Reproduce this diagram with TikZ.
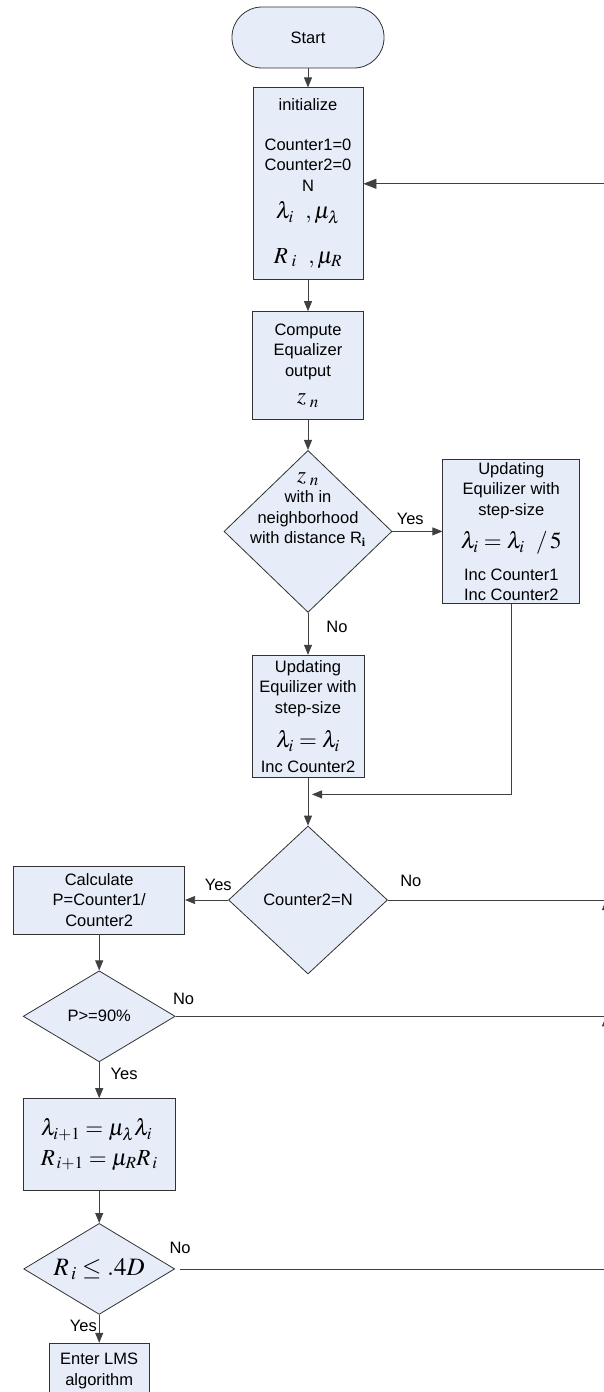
\documentclass[tikz,border=0pt]{standalone}
\usepackage{mathptmx}
\usepackage{fontspec}
\setmainfont{Liberation Sans}
\usetikzlibrary{shapes.geometric, arrows.meta, positioning, calc}
\definecolor{boxfill}{RGB}{230,236,248}
\definecolor{boxline}{RGB}{50,50,50}
\newcommand{\eqsize}{\fontsize{23}{26}\selectfont}
\newcommand{\txtsize}{\fontsize{16.5}{20.5}\selectfont}
\tikzset{
    box/.style = {draw=boxline, fill=boxfill, rectangle, align=center, inner sep=1pt, font=\txtsize},
    term/.style = {box, rounded corners=30pt, minimum width=152pt, minimum height=61pt},
    dec/.style = {draw=boxline, fill=boxfill, diamond, align=center, inner sep=0pt, font=\txtsize},
    txt/.style = {align=center, inner sep=0pt, font=\txtsize},
    lbl/.style = {inner sep=0pt, font=\txtsize},
    arr/.style = {-{Triangle[length=10pt,width=8pt]}},
    bigarr/.style = {-{Triangle[length=13pt,width=10pt]}}
}

\begin{document}
\begin{tikzpicture}[line width=0.8pt, draw=black!75]
    \useasboundingbox (0,0) rectangle (604pt,-1392pt);
    \coordinate (ret) at (606pt,0);

    \node (start) [term] at (308pt,-37.5pt) {Start};
    \node (init) [box, minimum width=110pt, minimum height=192pt, below=19pt of start]
        {initialize\\[19pt] Counter1=0\\ Counter2=0\\ N\\[7pt]
         {\eqsize $\lambda_i\;\ ,\mu_\lambda$}\\[24pt] {\eqsize $R_{\,\,i}\;\ ,\mu_R$}};
    \node (comp) [box, minimum width=111pt, minimum height=108pt, below=31pt of init]
        {Compute\\ Equalizer\\ output\\[7pt] {\eqsize $z_{\,\,n}$}};
    \node (dec1) [dec, aspect=1.04, minimum width=168pt, minimum height=162pt, below=30pt of comp] {};
    \node (dec1t) [txt, yshift=22pt] at (dec1)
        {{\eqsize $z_{\,\,n}$}\\ with in\\ neighborhood\\ with distance R$_{\mathbf{i}}$};
    \node (upd1) [box, minimum width=137pt, minimum height=144pt, right=50pt of dec1]
        {Updating\\ Equilizer with\\ step-size\\[12pt] {\eqsize $\lambda_i=\lambda_i\;\ /\,5$}\\[11pt] Inc Counter1\\ Inc Counter2};
    \node (upd2) [box, minimum width=112pt, minimum height=122pt, below=42pt of dec1]
        {Updating\\ Equilizer with\\ step-size\\[13pt] {\eqsize $\lambda_i=\lambda_i$}\\[4pt] Inc Counter2};
    \node (dec2) [dec, aspect=1.07, minimum width=159pt, minimum height=148pt, below=48pt of upd2] {Counter2=N};
    \node (calc) [box, minimum width=171pt, minimum height=68pt, left=43pt of dec2]
        {Calculate\\ P=Counter1/\\ Counter2};
    \node (dec3) [dec, aspect=1.67, minimum width=152pt, minimum height=91pt, below=36pt of calc] {P>=90\%};
    \node (upd3) [box, align=left, minimum width=152pt, minimum height=92pt, below=36pt of dec3]
        {{\eqsize $\lambda_{i+1}=\mu_\lambda\lambda_i$}\\[9pt] {\eqsize $R_{\,i+1}=\mu_R R_{\,i}$}};
    \node (dec4) [dec, aspect=1.66, minimum width=151pt, minimum height=91pt, below=32pt of upd3]
        {\fontsize{25}{27}\selectfont $R_{\,i}\le .4D$};
    \node (lms) [box, minimum width=100pt, minimum height=55pt, below=28pt of dec4]
        {Enter LMS\\ algorithm};

    \coordinate (merge) at ($(upd2.south)!0.35!(dec2.north)$);

    \draw[arr] (start) -- (init);
    \draw[arr] (init) -- (comp);
    \draw[arr] (comp) -- (dec1);
    \draw[arr] (dec1.east) -- node[lbl, above right=6pt and 4pt, pos=0] (yes1) {Yes} (upd1);
    \draw[arr] (dec1.south) -- node[lbl, below right=8pt and 18pt, pos=0] (no1) {No} (upd2);
    \draw[arr] (upd2) -- (dec2);
    \draw[arr, shorten >=4pt] (upd1.south) |- (merge);
    \draw[arr] (dec2.west) -- node[lbl, above left=9pt and -4pt, pos=0] (yes2) {Yes} (calc);
    \draw (dec2.east) -- node[lbl, above right=13pt and 12pt, pos=0] (no2) {No} (dec2.east -| ret);
    \draw[arr] (calc) -- (dec3);
    \draw (dec3.east) -- node[lbl, above right=11pt and -3pt, pos=0] (no3) {No} (dec3.east -| ret);
    \draw[arr] (dec3.south) -- node[lbl, below right=6pt and 11pt, pos=0] (yes3) {Yes} (upd3);
    \draw[arr] (upd3) -- (dec4);
    \draw[shorten <=5pt] (dec4.east) -- node[lbl, above right=15pt and -6pt, pos=0] (no4) {No} (dec4.east -| ret);
    \draw[arr] (dec4.south) -- node[lbl, below left=5pt and 2pt, pos=0] (yes4) {Yes} (lms);

    % way back up to the initialisation
    \draw[arr] (dec4.east -| ret) -- (dec3.east -| ret);
    \draw[arr] (dec3.east -| ret) -- (dec2.east -| ret);
    \draw[bigarr] (dec2.east -| ret) |- (init.east);
\end{tikzpicture}
\end{document}
